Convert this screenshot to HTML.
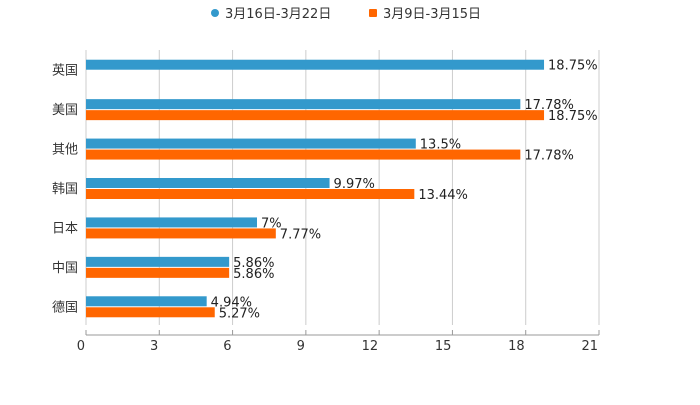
<!DOCTYPE html>
<html><head><meta charset="utf-8"><style>
body{margin:0;background:#fff}
svg text{font-family:"DejaVu Sans","Noto Sans CJK SC",sans-serif}
</style></head><body>
<svg width="700" height="400" xmlns="http://www.w3.org/2000/svg">
<g id="legend">
<circle cx="215" cy="13" r="4" fill="#3399cc"/>
<text x="225" y="18" font-size="13" fill="#333">3月16日-3月22日</text>
<rect x="369" y="9" width="8" height="8" rx="1" fill="#ff6600"/>
<text x="383" y="18" font-size="13" fill="#333">3月9日-3月15日</text>
</g>
<g id="grid"></g>
<g id="bars"></g>
<g id="axes"></g>
</svg>
<script>
const categories=["英国","美国","其他","韩国","日本","中国","德国"];
const seriesA=[18.75,17.78,13.5,9.97,7,5.86,4.94];
const seriesB=[null,18.75,17.78,13.44,7.77,5.86,5.27];
const labelsA=["18.75%","17.78%","13.5%","9.97%","7%","5.86%","4.94%"];
const labelsB=["","18.75%","17.78%","13.44%","7.77%","5.86%","5.27%"];
const ticks=[0,3,6,9,12,15,18,21];
const NS="http://www.w3.org/2000/svg";
const x0=86,x1=599,yTop=50,yBot=326;
const x=v=>x0+(v/21)*(x1-x0);
const band=(yBot-yTop)/categories.length;
const yc=i=>yTop+band*(i+0.5);
function mk(t,a,p){const e=document.createElementNS(NS,t);for(const k in a)e.setAttribute(k,a[k]);p.appendChild(e);return e;}
const grid=document.getElementById('grid'),bars=document.getElementById('bars'),axes=document.getElementById('axes');
ticks.forEach(t=>{
 const g=mk('line',{x1:x(t),x2:x(t),y1:yTop,y2:yBot-1,stroke:'#ccc','stroke-width':1},grid);
 
 
 const tk=mk('line',{x1:x(t),x2:x(t),y1:330,y2:335,stroke:'#999'},axes);
 
 
 const l=mk('text',{x:x(t)-1,y:350,'font-size':13,fill:'#333','text-anchor':'end'},axes);
 l.textContent=t;
 
 
});
const ax=mk('line',{x1:x0,x2:x1,y1:335,y2:335,stroke:'#999'},axes);


categories.forEach((c,i)=>{
 const y=yc(i);
 const cl=mk('text',{x:78,y:y+5,'font-size':13,fill:'#333','text-anchor':'end'},axes);
 cl.textContent=c;
 
 
 if(seriesA[i]!=null){
  const r=mk('rect',{x:x0,y:y-10,width:x(seriesA[i])-x0,height:10,fill:'#3399cc'},bars);
  
  
  const t=mk('text',{x:x(seriesA[i])+4,y:y,'font-size':13,fill:'#222'},bars);
  t.textContent=labelsA[i];
  
  
 }
 if(seriesB[i]!=null){
  const r=mk('rect',{x:x0,y:y+1,width:x(seriesB[i])-x0,height:10,fill:'#ff6600'},bars);
  
  
  const t=mk('text',{x:x(seriesB[i])+4,y:y+11,'font-size':13,fill:'#222'},bars);
  t.textContent=labelsB[i];
  
  
 }
});
</script>
</body></html>
